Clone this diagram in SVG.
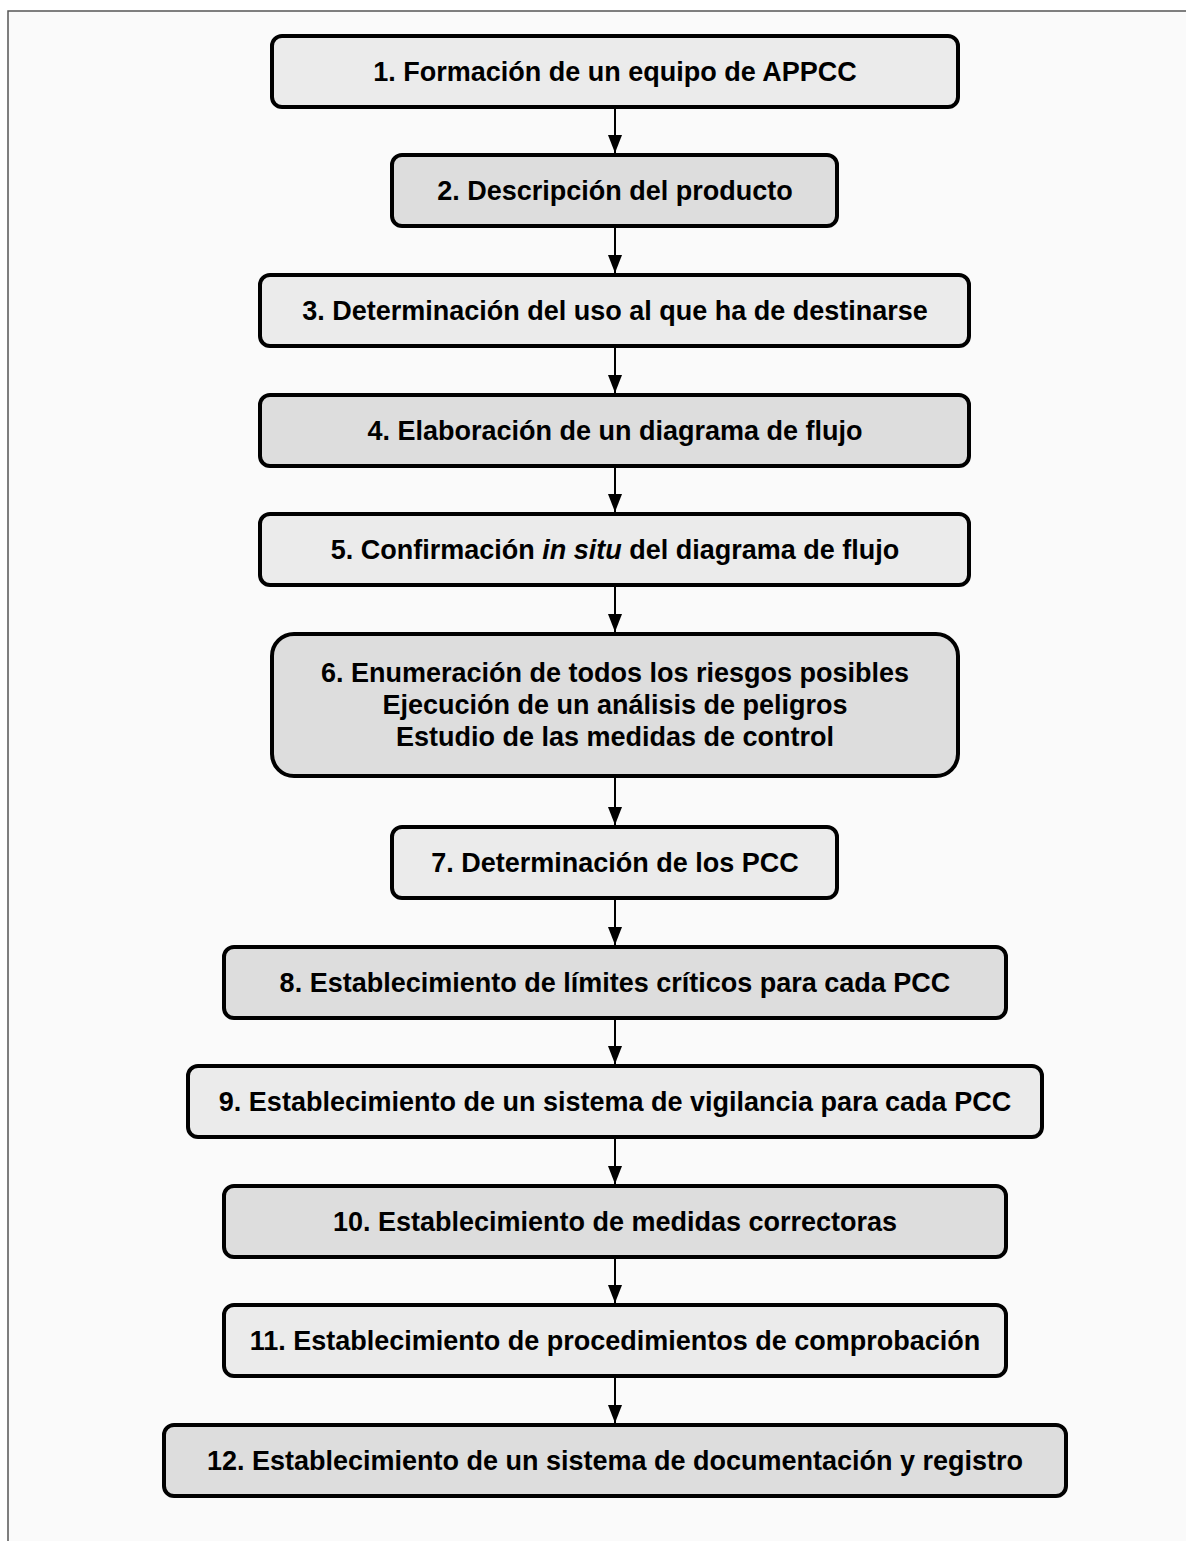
<svg xmlns="http://www.w3.org/2000/svg" width="1186" height="1541" viewBox="0 0 1186 1541">
<style>
.box{stroke:#000;stroke-width:4}
.l{fill:#ebebeb}
.d{fill:#dddddd}
.t{font-family:"Liberation Sans",Arial,Helvetica,sans-serif;font-weight:bold;font-size:27px;fill:#000;text-anchor:middle}
.c{stroke:#000;stroke-width:2;fill:none}
</style>
<defs>
<marker id="ah" markerUnits="userSpaceOnUse" markerWidth="18" markerHeight="14" refX="18" refY="7" orient="auto">
<path d="M0,0 L18,7 L0,14 z" fill="#000"/>
</marker>
</defs>
<rect x="0" y="0" width="1186" height="1541" fill="#ffffff"/>
<rect id="frame" x="8" y="11" width="1190" height="1540" fill="#fafafa" stroke="#555" stroke-width="1.5"/>
<g id="connectors">
<line class="c" x1="615" y1="109" x2="615" y2="153" marker-end="url(#ah)"/>
<line class="c" x1="615" y1="228" x2="615" y2="273" marker-end="url(#ah)"/>
<line class="c" x1="615" y1="348" x2="615" y2="393" marker-end="url(#ah)"/>
<line class="c" x1="615" y1="468" x2="615" y2="512" marker-end="url(#ah)"/>
<line class="c" x1="615" y1="587" x2="615" y2="632" marker-end="url(#ah)"/>
<line class="c" x1="615" y1="778" x2="615" y2="825" marker-end="url(#ah)"/>
<line class="c" x1="615" y1="900" x2="615" y2="945" marker-end="url(#ah)"/>
<line class="c" x1="615" y1="1020" x2="615" y2="1064" marker-end="url(#ah)"/>
<line class="c" x1="615" y1="1139" x2="615" y2="1184" marker-end="url(#ah)"/>
<line class="c" x1="615" y1="1259" x2="615" y2="1303" marker-end="url(#ah)"/>
<line class="c" x1="615" y1="1378" x2="615" y2="1423" marker-end="url(#ah)"/>
</g>
<g id="n1"><rect class="box l" x="272" y="36" width="686" height="71" rx="10"/><text class="t" x="615" y="81">1. Formación de un equipo de APPCC</text></g>
<g id="n2"><rect class="box d" x="392" y="155" width="445" height="71" rx="10"/><text class="t" x="615" y="200">2. Descripción del producto</text></g>
<g id="n3"><rect class="box l" x="260" y="275" width="709" height="71" rx="10"/><text class="t" x="615" y="320">3. Determinación del uso al que ha de destinarse</text></g>
<g id="n4"><rect class="box d" x="260" y="395" width="709" height="71" rx="10"/><text class="t" x="615" y="440">4. Elaboración de un diagrama de flujo</text></g>
<g id="n5"><rect class="box l" x="260" y="514" width="709" height="71" rx="10"/><text class="t" x="615" y="559">5. Confirmación <tspan font-style="italic">in situ</tspan> del diagrama de flujo</text></g>
<g id="n6"><rect class="box d" x="272" y="634" width="686" height="142" rx="22"/><text class="t" x="615" y="682">6. Enumeración de todos los riesgos posibles</text><text class="t" x="615" y="714">Ejecución de un análisis de peligros</text><text class="t" x="615" y="746">Estudio de las medidas de control</text></g>
<g id="n7"><rect class="box l" x="392" y="827" width="445" height="71" rx="10"/><text class="t" x="615" y="872">7. Determinación de los PCC</text></g>
<g id="n8"><rect class="box d" x="224" y="947" width="782" height="71" rx="10"/><text class="t" x="615" y="992">8. Establecimiento de límites críticos para cada PCC</text></g>
<g id="n9"><rect class="box l" x="188" y="1066" width="854" height="71" rx="10"/><text class="t" x="615" y="1111">9. Establecimiento de un sistema de vigilancia para cada PCC</text></g>
<g id="n10"><rect class="box d" x="224" y="1186" width="782" height="71" rx="10"/><text class="t" x="615" y="1231">10. Establecimiento de medidas correctoras</text></g>
<g id="n11"><rect class="box l" x="224" y="1305" width="782" height="71" rx="10"/><text class="t" x="615" y="1350">11. Establecimiento de procedimientos de comprobación</text></g>
<g id="n12"><rect class="box d" x="164" y="1425" width="902" height="71" rx="10"/><text class="t" x="615" y="1470">12. Establecimiento de un sistema de documentación y registro</text></g>
</svg>
